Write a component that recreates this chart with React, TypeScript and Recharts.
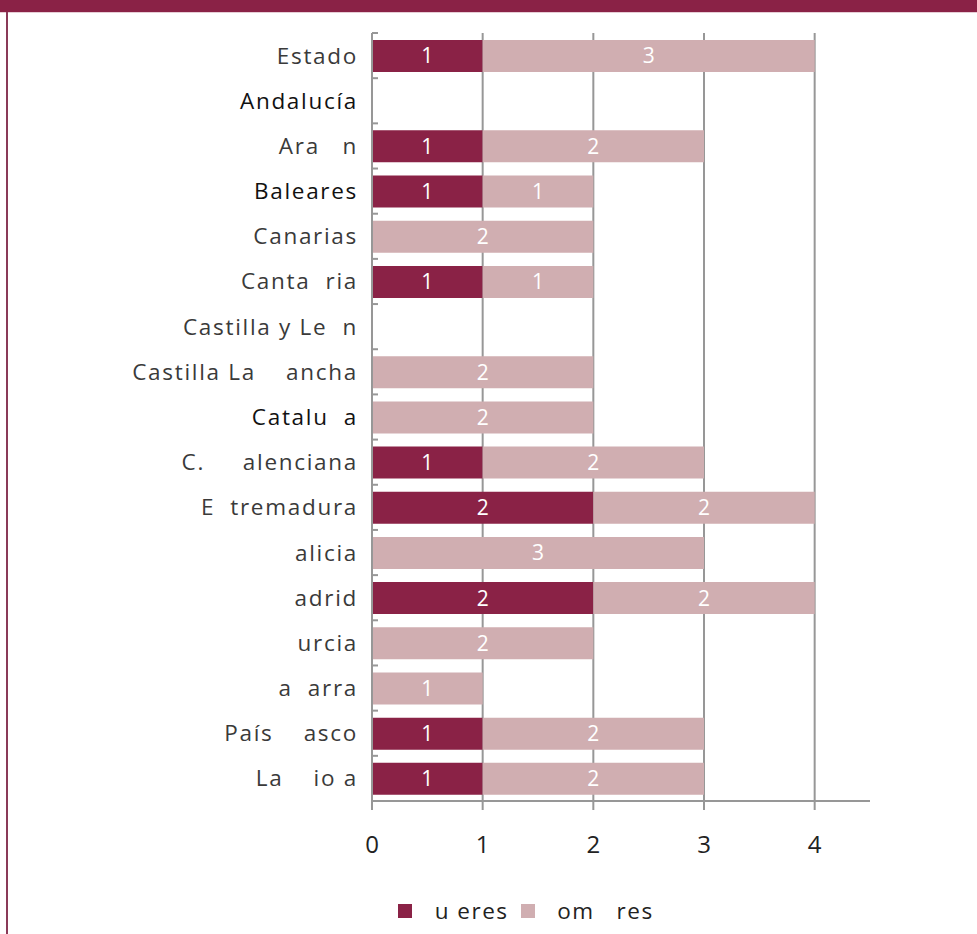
import React from 'react';
import { Bar, BarChart, CartesianGrid, LabelList, XAxis, YAxis } from 'recharts';

// Regiones tal como se ven en la imagen (algunos glifos faltan en el original)
const regions = [
  'Estado',
  'Andalucía',
  'Ara   n',
  'Baleares',
  'Canarias',
  'Canta  ria',
  'Castilla y Le  n',
  'Castilla La    ancha',
  'Catalu  a',
  'C.     alenciana',
  'E  tremadura',
  'alicia',
  'adrid',
  'urcia',
  'a  arra',
  'País    asco',
  'La    io a',
];
const mujeres = [1, 0, 1, 1, 0, 1, 0, 0, 0, 1, 2, 0, 2, 0, 0, 1, 1];
const hombres = [3, 0, 2, 1, 2, 1, 0, 2, 2, 2, 2, 3, 2, 2, 1, 2, 2];
const xTicks = [0, 1, 2, 3, 4];
const X_MAX = 4.5;
const legendLabels = ['  u eres', '  om   res'];
const darkLabels = ['Andalucía', 'Baleares', 'Catalu  a'];

const DARK = '#8a2246';
const LIGHT = '#d0aeb1';
const GRID = '#979797';
const FONT = '"Open Sans", "DejaVu Sans", sans-serif';

const data = regions.map((region, i) => ({
  region,
  mujeres: mujeres[i],
  hombres: hombres[i],
}));

const BAND = 768 / regions.length;

function RegionTick(props: any) {
  const { x, y, payload, index } = props;
  const isLast = index === regions.length - 1;
  return (
    <g>
      <line x1={x + 8} x2={x + 14} y1={y - BAND / 2} y2={y - BAND / 2} stroke={GRID} strokeWidth={2} />
      {isLast && (
        <line x1={x + 8} x2={x + 14} y1={y + BAND / 2} y2={y + BAND / 2} stroke={GRID} strokeWidth={2} />
      )}
      <text
        x={x - 6}
        y={y}
        dy={8}
        textAnchor="end"
        fontSize={22.5}
        fontFamily={FONT}
        letterSpacing={1.7}
        style={{ whiteSpace: 'pre' }}
        fill={darkLabels.includes(payload.value) ? '#111' : '#3a3a3a'}
      >
        {payload.value}
      </text>
    </g>
  );
}

const hideZero = (v: any) => (v ? v : '');

// líneas verticales sólo en los ticks (sin la del borde derecho)
const gridX = ({ offset }: any) => xTicks.map((t) => offset.left + (offset.width * t) / X_MAX);

export default function App() {
  return (
    <div style={{ position: 'absolute', left: 0, top: 0, width: 977, height: 934, background: '#fff', overflow: 'hidden' }}>
      <div style={{ position: 'absolute', left: 0, top: 0, width: 977, height: 12, background: DARK }} />
      <div style={{ position: 'absolute', left: 0, top: 12, width: 977, height: 1, background: '#e6cdd5' }} />
      <div style={{ position: 'absolute', left: 6, top: 12, width: 2, height: 922, background: '#8a3a58' }} />
      <div style={{ position: 'absolute', left: 0, top: 0 }}>
        <BarChart
          width={977}
          height={934}
          data={data}
          layout="vertical"
          margin={{ top: 33, right: 107, left: 0, bottom: 73 }}
          barSize={32}
        >
          <CartesianGrid
            vertical
            horizontal={false}
            stroke={GRID}
            strokeWidth={2}
            verticalCoordinatesGenerator={gridX}
          />
          <XAxis
            type="number"
            domain={[0, X_MAX]}
            ticks={xTicks}
            height={60}
            axisLine={{ stroke: GRID, strokeWidth: 2 }}
            tickLine={{ stroke: GRID, strokeWidth: 2 }}
            tickSize={9}
            tickMargin={26}
            tick={{ fontSize: 24, fill: '#222', fontFamily: FONT }}
          />
          <YAxis
            type="category"
            dataKey="region"
            width={372}
            axisLine={{ stroke: GRID, strokeWidth: 2 }}
            tickLine={false}
            interval={0}
            tick={<RegionTick />}
          />
          <Bar dataKey="mujeres" stackId="s" fill={DARK} isAnimationActive={false}>
            <LabelList dataKey="mujeres" position="center" fill="#fff" fontSize={21} fontFamily={FONT} formatter={hideZero} />
          </Bar>
          <Bar dataKey="hombres" stackId="s" fill={LIGHT} isAnimationActive={false}>
            <LabelList dataKey="hombres" position="center" fill="#fff" fontSize={21} fontFamily={FONT} formatter={hideZero} />
          </Bar>
        </BarChart>
      </div>
      <div
        style={{
          position: 'absolute',
          left: 398,
          top: 895,
          display: 'flex',
          alignItems: 'center',
          fontFamily: FONT,
          fontSize: 22.5,
          letterSpacing: 1.5,
          color: '#222',
          whiteSpace: 'pre',
        }}
      >
        <span style={{ width: 14, height: 14, background: DARK, display: 'inline-block', marginRight: 8 }} />
        <span style={{ marginRight: 12 }}>{legendLabels[0]}</span>
        <span style={{ width: 14, height: 14, background: LIGHT, display: 'inline-block', marginRight: 8 }} />
        <span>{legendLabels[1]}</span>
      </div>
    </div>
  );
}
